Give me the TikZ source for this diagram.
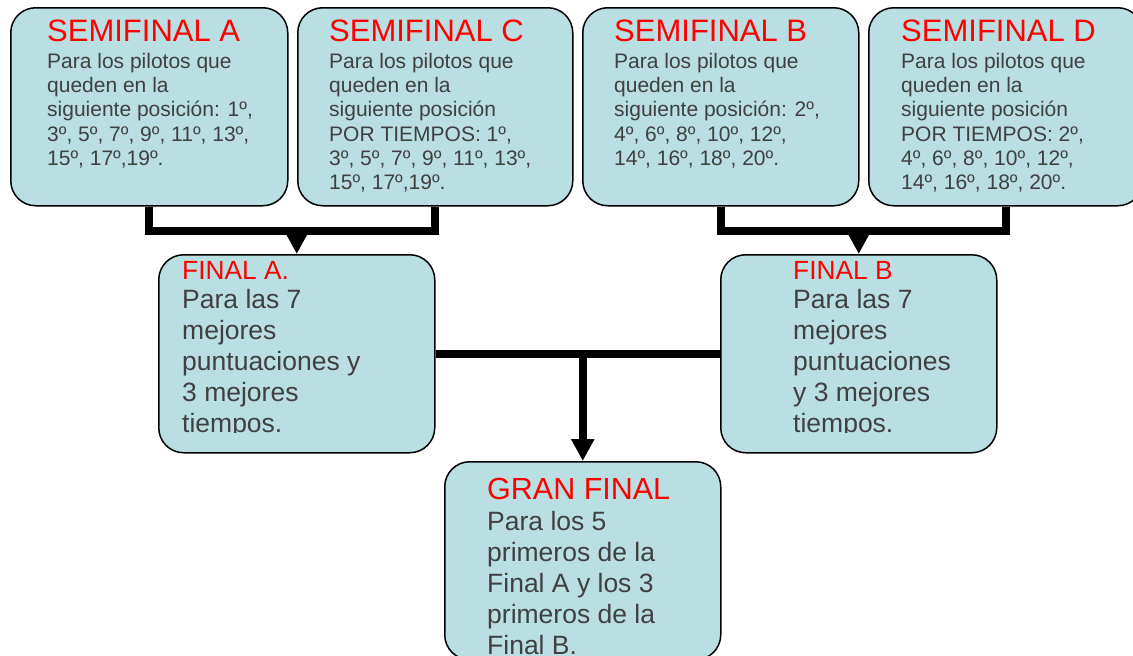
\documentclass[tikz,border=0pt]{standalone}
\usepackage{fontspec}
\setmainfont{Liberation Sans}
\usetikzlibrary{arrows.meta}
\definecolor{boxfill}{RGB}{185,223,227}
\definecolor{txt}{RGB}{64,64,64}
\definecolor{ttl}{RGB}{255,0,0}
\tikzset{
  card/.style={draw=black, line width=1.5pt, fill=boxfill, rounded corners=25pt,
    minimum width=277pt, minimum height=198pt, inner sep=0pt, anchor=north west},
  semititle/.style={anchor=base west, inner sep=0pt, text=ttl, font=\fontsize{31}{35}\selectfont},
  semibody/.style={anchor=base west, inner sep=0pt, text=txt, font=\fontsize{21}{24.3}\selectfont},
  fintitle/.style={anchor=base west, inner sep=0pt, text=ttl, font=\fontsize{26.3}{31}\selectfont},
  grantitle/.style={anchor=base west, inner sep=0pt, text=ttl, font=\fontsize{30.5}{31}\selectfont},
  finbody/.style={anchor=base west, inner sep=0pt, text=txt, font=\fontsize{26.5}{31}\selectfont},
  conn/.style={line width=8pt, draw=black},
  arr/.style={conn, -{Triangle[width=22pt,length=22pt]}},
}
\newcommand{\lines}[1]{\parbox[t]{320pt}{\raggedright #1}}
\begin{document}
\begin{tikzpicture}[x=1pt,y=-1pt]
\useasboundingbox (0,0) rectangle (1133,656);
% boxes
\node[card] (sA) at (10,7) {};
\node[card, minimum width=275pt] (sC) at (297,7) {};
\node[card, minimum width=276pt] (sB) at (582,7) {};
\node[card, minimum width=274pt] (sD) at (868,7) {};
\node[card, minimum width=276pt] (fA) at (158,254) {};
\node[card, minimum width=276pt] (fB) at (720,254) {};
\node[card, minimum width=276pt] (gf) at (444,461) {};
% semifinal texts
\node[semititle] (tA) at (47,41.5) {SEMIFINAL A};
\node[semibody] (bA) at (47,68.3) {\lines{Para los pilotos que\\queden en la\\siguiente posición: 1º,\\3º, 5º, 7º, 9º, 11º, 13º,\\15º, 17º,19º.}};
\node[semititle] (tC) at (329,41.5) {SEMIFINAL C};
\node[semibody] (bC) at (329,68.3) {\lines{Para los pilotos que\\queden en la\\siguiente posición\\POR TIEMPOS: 1º,\\3º, 5º, 7º, 9º, 11º, 13º,\\15º, 17º,19º.}};
\node[semititle] (tB) at (614,41.5) {SEMIFINAL B};
\node[semibody] (bB) at (614,68.3) {\lines{Para los pilotos que\\queden en la\\siguiente posición: 2º,\\4º, 6º, 8º, 10º, 12º,\\14º, 16º, 18º, 20º.}};
\node[semititle] (tD) at (901,41.5) {SEMIFINAL D};
\node[semibody] (bD) at (901,68.3) {\lines{Para los pilotos que\\queden en la\\siguiente posición\\POR TIEMPOS: 2º,\\4º, 6º, 8º, 10º, 12º,\\14º, 16º, 18º, 20º.}};
% final texts (clipped at bottom as in the reference)
\begin{scope}
\clip (0,0) rectangle (1133,432.5);
\node[fintitle] (tFA) at (182,279) {FINAL A.};
\node[finbody] (bFA) at (182,308) {\lines{Para las 7\\mejores\\puntuaciones y\\3 mejores\\tiempos.}};
\node[fintitle] (tFB) at (793,279) {FINAL B};
\node[finbody] (bFB) at (793,308) {\lines{Para las 7\\mejores\\puntuaciones\\y 3 mejores\\tiempos.}};
\end{scope}
\node[grantitle] (tG) at (487,499) {GRAN FINAL};
\node[finbody] (bG) at (487,530) {\lines{Para los 5\\primeros de la\\Final A y los 3\\primeros de la\\Final B.}};
% connectors
\draw[conn] (sA.south) -- ++(0,24) coordinate (ja) -| (sC.south);
\draw[arr] (fA.north |- ja) -- (fA.north);
\draw[conn] (sB.south) -- ++(0,24) coordinate (jb) -| (sD.south);
\draw[arr] (fB.north |- jb) -- (fB.north);
\draw[conn] (fA.east) -- (fB.west);
\draw[arr] (gf.north |- fA.east) -- (gf.north);
\end{tikzpicture}
\end{document}
